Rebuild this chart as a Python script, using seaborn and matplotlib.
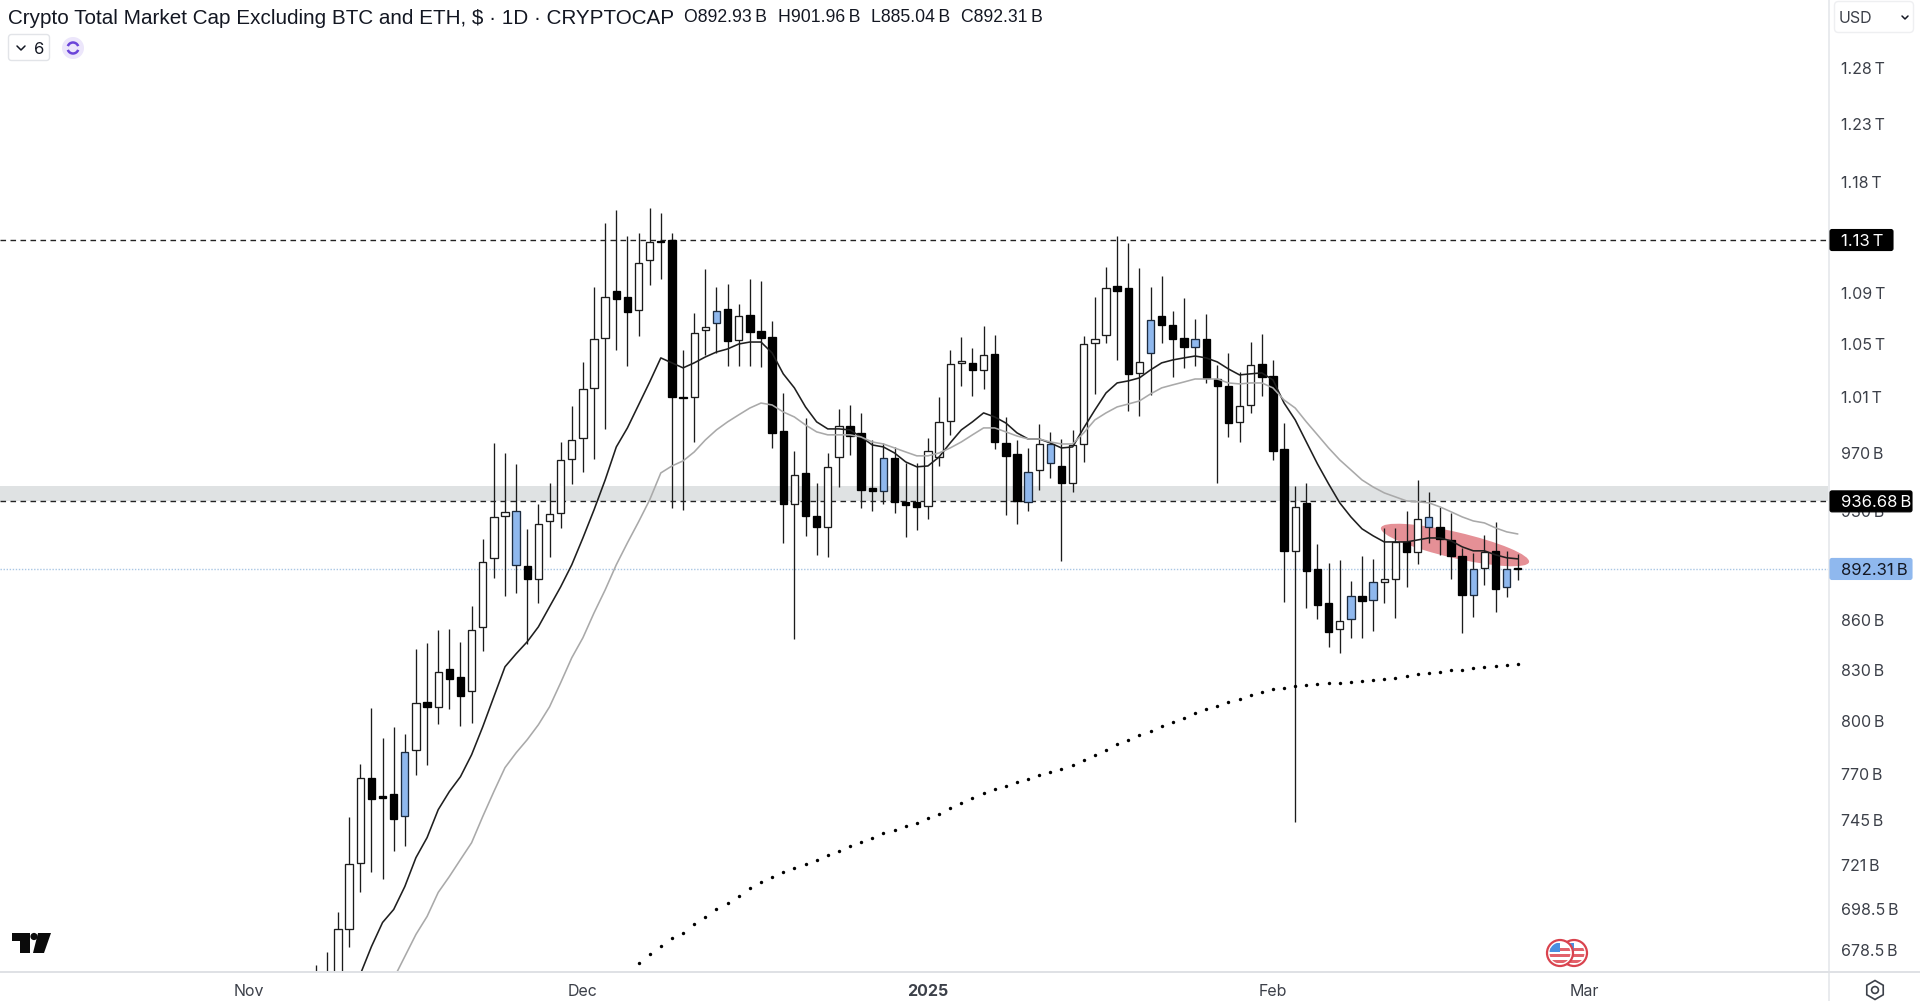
import numpy as np
import pandas as pd
import matplotlib
matplotlib.use("Agg")
import matplotlib.pyplot as plt
import matplotlib.dates as mdates
from matplotlib.patches import Arc, Ellipse, Circle, Rectangle, FancyBboxPatch, Polygon, RegularPolygon
from matplotlib.transforms import IdentityTransform
from matplotlib.ticker import FixedLocator, FixedFormatter, NullLocator
import seaborn as sns

# ========= data, all in billions =========
first_day = "2024-11-07"

highs = [671.3, 678.0, 697.3, 746.9, 775.9, 807.7, 790.5, 796.7, 792.8, 842.6,
         846.3, 854.2, 854.8, 846.9, 869.0, 911.8, 976.8, 969.8, 962.2, 918.4,
         935.0, 949.2, 977.5, 1003.1, 1035.3, 1092.5, 1143.8, 1154.6, 1133.2, 1135.7,
         1156.3, 1152.1, 1135.7, 1044.2, 1072.3, 1106.7, 1092.5, 1094.9, 1079.3, 1098.8,
         1097.2, 1066.2, 1012.5, 971.2, 994.5, 949.2, 969.8, 1000.9, 1003.8, 998.1,
         978.9, 976.8, 974.0, 962.9, 962.9, 980.3, 1009.6, 1044.2, 1054.0, 1045.7,
         1062.3, 1055.4, 995.2, 978.9, 973.3, 990.3, 984.6, 979.6, 986.0, 1054.7,
         1084.7, 1108.3, 1133.2, 1127.6, 1107.5, 1092.5, 1101.2, 1073.8, 1084.0, 1067.7,
         1071.5, 1033.1, 1042.0, 1027.9, 1050.2, 1056.2, 1036.8, 990.9, 947.1, 949.2,
         908.5, 896.2, 898.2, 884.8, 900.8, 898.8, 919.0, 919.0, 930.3, 951.2,
         943.1, 933.0, 929.0, 905.9, 902.7, 914.4, 923.0, 904.0, 901.96]
body_tops = [662.2, 667.0, 689.3, 722.2, 768.1, 768.1, 758.3, 759.4, 782.6, 810.6,
             811.2, 828.8, 830.6, 825.9, 854.2, 896.9, 926.3, 929.7, 930.3, 894.3,
             921.7, 928.3, 965.0, 978.9, 1015.4, 1052.5, 1084.7, 1089.4, 1084.7, 1111.5,
             1128.4, 1129.2, 1130.0, 1009.6, 1057.0, 1061.6, 1073.8, 1075.4, 1070.0, 1070.7,
             1058.5, 1054.0, 985.3, 954.7, 956.0, 927.0, 960.2, 988.8, 988.8, 983.9,
             945.8, 966.4, 966.4, 936.4, 936.4, 971.2, 991.7, 1033.8, 1036.0, 1034.6,
             1040.5, 1041.2, 976.8, 969.1, 956.7, 976.1, 976.1, 960.8, 975.4, 1048.7,
             1052.5, 1091.8, 1093.3, 1091.8, 1035.3, 1066.9, 1070.0, 1063.1, 1053.2, 1052.5,
             1052.5, 1022.7, 1017.6, 1003.1, 1033.1, 1033.8, 1024.9, 972.6, 933.0, 935.7,
             892.4, 870.9, 859.7, 875.3, 875.3, 884.1, 886.0, 909.8, 909.8, 925.0,
             926.3, 919.7, 911.1, 900.8, 892.4, 903.3, 904.0, 892.4, 892.93]
body_bots = [650.4, 657.4, 662.2, 689.3, 722.7, 756.6, 757.2, 745.8, 747.5, 783.7,
             808.2, 808.2, 824.7, 814.6, 817.6, 856.0, 899.5, 927.0, 895.0, 886.0,
             886.0, 923.6, 929.0, 965.7, 980.3, 1016.2, 1053.2, 1083.2, 1073.1, 1074.6,
             1113.9, 1128.4, 1009.6, 1008.9, 1009.6, 1059.3, 1064.6, 1051.0, 1051.7, 1057.8,
             1053.2, 983.9, 935.0, 935.0, 927.0, 919.7, 919.7, 967.0, 981.7, 944.4,
             943.7, 943.7, 936.4, 934.4, 933.0, 933.7, 967.0, 992.4, 1034.6, 1029.4,
             1029.4, 977.5, 967.8, 937.0, 936.4, 958.1, 962.9, 949.2, 949.2, 976.1,
             1049.4, 1055.4, 1089.4, 1026.5, 1027.2, 1042.0, 1063.1, 1052.5, 1046.5, 1046.5,
             1023.5, 1017.6, 991.0, 991.7, 1003.8, 1024.2, 971.2, 904.0, 904.0, 891.1,
             869.7, 853.0, 854.8, 860.9, 872.2, 872.8, 884.1, 886.0, 903.3, 903.3,
             919.7, 911.8, 900.8, 875.9, 875.9, 893.0, 879.6, 880.9, 892.31]
lows = [641.2, 648.0, 652.7, 680.0, 707.4, 717.6, 714.5, 729.0, 731.4, 769.8,
        775.3, 798.5, 807.1, 797.3, 799.0, 841.4, 886.7, 875.3, 877.1, 845.7,
        870.9, 900.1, 919.0, 948.5, 956.7, 965.7, 986.7, 1044.2, 1032.4, 1054.7,
        1094.1, 1098.8, 932.3, 931.0, 977.5, 1040.5, 1042.0, 1032.4, 1032.4, 1032.4,
        1031.7, 973.3, 909.2, 848.7, 913.8, 901.4, 900.1, 946.4, 968.4, 932.3,
        930.3, 935.0, 929.0, 913.1, 917.7, 925.0, 960.8, 982.5, 1017.6, 1010.3,
        1015.4, 972.6, 927.7, 921.7, 930.3, 944.4, 952.6, 897.6, 943.1, 963.6,
        1011.8, 1049.4, 1036.8, 999.5, 996.0, 1011.0, 1049.4, 1024.2, 1030.9, 1032.4,
        1019.8, 949.2, 981.0, 977.5, 998.1, 1010.3, 965.0, 871.5, 744.2, 867.8,
        860.9, 843.8, 840.2, 849.3, 849.3, 853.6, 870.9, 861.5, 880.9, 895.6,
        909.2, 901.4, 886.0, 852.4, 862.2, 882.2, 865.3, 874.6, 885.04]
kinds = list("wwwwwkkkbwkwkkwwwwbkwwwwwwwkkwwkkkwwbkwkkkkwkkwwkkkbkkkwwwwkwkkkbwbkwwwwkkwbkkkbkkkwwkkkwkkkwbkbwwkwbkkkbwkbk")

fast_ma = [667.0, 680.4, 692.3, 698.8, 710.4, 725.3, 735.8, 750.7, 760.5, 768.7,
           780.9, 796.7, 814.1, 831.8, 839.6, 846.9, 856.0, 868.4, 880.9, 895.0,
           912.4, 931.0, 951.2, 974.0, 987.4, 1003.8, 1020.5, 1038.3, 1034.6, 1030.9,
           1034.6, 1039.0, 1042.7, 1045.0, 1048.7, 1050.2, 1050.2, 1042.0, 1026.5, 1016.2,
           1002.4, 991.7, 986.7, 986.7, 986.0, 981.0, 975.4, 974.0, 969.8, 963.6,
           960.2, 960.8, 967.0, 976.8, 986.0, 991.7, 998.1, 995.2, 990.9, 983.9,
           979.6, 979.6, 976.8, 973.3, 974.0, 987.4, 1000.2, 1012.5, 1019.8, 1021.3,
           1023.5, 1029.4, 1034.6, 1036.8, 1038.3, 1039.7, 1038.3, 1035.3, 1030.1, 1025.7,
           1026.5, 1027.2, 1022.0, 1005.2, 993.1, 977.5, 962.2, 948.5, 935.7, 926.3,
           918.4, 913.8, 909.8, 909.8, 909.8, 911.1, 912.4, 912.4, 910.5, 906.6,
           904.0, 904.0, 901.4, 899.5, 898.8]
slow_ma = [665.0, 675.6, 686.4, 695.3, 707.4, 715.5, 724.3, 733.1, 747.0, 760.5,
           773.7, 782.0, 789.4, 797.9, 808.2, 822.3, 837.2, 849.3, 864.6, 879.0,
           895.0, 909.2, 923.0, 937.7, 956.0, 960.8, 964.3, 970.5, 978.9, 986.0,
           991.7, 996.7, 1001.6, 1005.2, 1003.8, 998.8, 995.2, 989.5, 984.6, 982.5,
           982.5, 982.5, 981.0, 977.5, 976.1, 973.3, 970.5, 967.8, 967.8, 969.8,
           973.3, 977.5, 982.5, 987.4, 987.4, 984.6, 981.7, 979.6, 979.6, 977.5,
           976.1, 976.1, 983.9, 993.1, 998.1, 1002.4, 1004.5, 1006.7, 1011.8, 1016.2,
           1018.4, 1020.5, 1022.7, 1022.7, 1022.7, 1019.8, 1019.1, 1019.8, 1019.8, 1016.2,
           1007.4, 1001.6, 991.7, 982.5, 973.3, 965.0, 958.1, 951.2, 946.4, 942.4,
           939.7, 937.0, 936.4, 935.7, 933.0, 929.7, 926.3, 923.6, 922.3, 919.0,
           916.4, 915.0]
dot_ma = [672.3, 676.6, 680.9, 684.4, 687.3, 691.3, 694.8, 698.8, 702.3, 705.8,
          709.4, 712.9, 715.5, 717.6, 720.1, 722.2, 724.3, 726.9, 729.0, 731.6,
          733.7, 735.8, 738.4, 740.0, 742.1, 743.7, 746.4, 748.5, 751.8, 754.5,
          757.2, 760.0, 762.1, 763.8, 765.9, 767.6, 769.8, 771.5, 773.1, 775.3,
          778.1, 780.9, 783.7, 787.1, 789.4, 792.2, 794.4, 797.3, 799.6, 801.9,
          804.8, 807.1, 808.8, 811.2, 812.9, 815.2, 817.0, 818.8, 819.4, 820.6,
          821.2, 821.8, 822.3, 822.3, 822.9, 823.5, 824.1, 824.7, 825.3, 826.5,
          827.6, 828.2, 828.8, 830.0, 830.0, 831.2, 831.8, 832.4, 833.0, 833.6]

top_level = 1130.0
mid_level = 936.68
band_top = 947.1
last_close = 892.31

# axis labels are rounded, the ticks themselves are not quite round numbers
y_ticks = [1278.4, 1228, 1178, 1088, 1048.7, 1009.6, 970, 930, 860, 830, 800, 770, 745, 721.5, 699, 679]
y_labels = ["1.28\u2009T", "1.23\u2009T", "1.18\u2009T", "1.09\u2009T", "1.05\u2009T", "1.01\u2009T",
            "970\u2009B", "930\u2009B", "860\u2009B", "830\u2009B", "800\u2009B", "770\u2009B",
            "745\u2009B", "721\u2009B", "698.5\u2009B", "678.5\u2009B"]
x_ticks = ["2024-11-01", "2024-12-01", "2025-01-01", "2025-02-01", "2025-03-01"]
x_labels = ["Nov", "Dec", "2025", "Feb", "Mar"]

title = "Crypto Total Market Cap Excluding BTC and ETH, $ \u00b7 1D \u00b7 CRYPTOCAP"
ohlc = [("O", "892.93\u2009B"), ("H", "901.96\u2009B"), ("L", "885.04\u2009B"), ("C", "892.31\u2009B")]

# ========= setup =========
W, H = 1920, 1001
PANE_R, PANE_B = 1829, 971
ink = "#131722"
axis_txt = "#3c4049"

sns.set_theme(style="white")
plt.rcParams["font.family"] = ["Inter", "DejaVu Sans"]

fig = plt.figure(figsize=(W / 100, H / 100), dpi=100, facecolor="white")
ax = fig.add_axes([0, 1 - PANE_B / H, PANE_R / W, PANE_B / H])
ax.set_yscale("log")
for s in ax.spines.values():
    s.set_visible(False)

days = pd.date_range(first_day, periods=len(highs))
df = pd.DataFrame({"day": days, "high": highs, "top": body_tops, "bot": body_bots, "low": lows, "kind": kinds})

# ========= levels =========
ax.axhspan(mid_level, band_top, color="#dfe2e3", lw=0, zorder=1)
ax.axhline(top_level, color="#222222", lw=1.0, dashes=(4, 3.2), zorder=2)
ax.axhline(mid_level, color="#222222", lw=1.0, dashes=(4, 3.2), zorder=2)
ax.axhline(last_close, color="#a9c6e4", lw=1.0, dashes=(1, 1.2), zorder=2)

# red highlight, placed by eye
ax.add_patch(Ellipse((1455, H - 545), 152, 26, angle=-13, transform=IdentityTransform(),
                     facecolor="#e59096", edgecolor="none", zorder=2))

# ========= candles =========
ax.vlines(df["day"], df["low"], df["high"], color="#1c1c1c", lw=0.95, zorder=3)
fills = {"w": "#ffffff", "k": "#000000", "b": "#8fb8ee"}
edges = {"w": "#1c1c1c", "k": "#000000", "b": "#1c2b3f"}
for kind in "wkb":
    part = df[df["kind"] == kind]
    ax.bar(part["day"], part["top"] - part["bot"], bottom=part["bot"], width=0.66,
           color=fills[kind], edgecolor=edges[kind], linewidth=0.95, zorder=4)

# ========= moving averages =========
sns.lineplot(x=days[4:4 + len(fast_ma)], y=fast_ma, color="#1f1f1f", linewidth=1.15, ax=ax, zorder=5)
sns.lineplot(x=days[7:7 + len(slow_ma)], y=slow_ma, color="#a9a9a9", linewidth=1.15, ax=ax, zorder=5)
sns.scatterplot(x=days[29:29 + len(dot_ma)], y=dot_ma, color="#000000", s=6, linewidth=0, ax=ax, zorder=5)

# ========= axes =========
nov1 = mdates.date2num(pd.Timestamp("2024-11-01"))
ax.set_xlim(nov1 - 249 / 11.13, nov1 + (PANE_R - 249) / 11.13)
ax.set_ylim(668.6, 1342.5)
ax.set_xlabel("")
ax.set_ylabel("")
ax.grid(False)

ax.yaxis.tick_right()
ax.yaxis.set_major_locator(FixedLocator(y_ticks))
ax.yaxis.set_major_formatter(FixedFormatter(y_labels))
ax.yaxis.set_minor_locator(NullLocator())
ax.tick_params(axis="y", length=0, pad=8.5, labelsize=11.5, labelcolor=axis_txt)

ax.set_xticks(mdates.date2num(pd.to_datetime(x_ticks)))
ax.set_xticklabels(x_labels)
ax.tick_params(axis="x", length=0, pad=9, labelsize=11.5, labelcolor=axis_txt)
ax.get_xticklabels()[2].set_fontweight("bold")

# ========= chrome, in pixel coordinates =========
ov = fig.add_axes([0, 0, 1, 1], zorder=10)
ov.set_xlim(0, W)
ov.set_ylim(H, 0)
ov.axis("off")

ov.add_patch(Rectangle((PANE_R - 1, 0), 2, H, fc="#e9ebee", ec="none"))
ov.add_patch(Rectangle((0, PANE_B), W, 1.5, fc="#dfe1e5", ec="none"))


def price_tag(value, text, fc, fg, width):
    y = H - ax.transData.transform((0, value))[1]
    ov.add_patch(FancyBboxPatch((PANE_R + 1, y - 10.5), width - 3, 21, boxstyle="round,pad=0,rounding_size=2",
                                fc=fc, ec=fc, lw=0.8))
    ov.text(PANE_R + 12, y, text, color=fg, fontsize=12, va="center_baseline", ha="left")


price_tag(top_level, "1.13\u2009T", "#000000", "#ffffff", 66)
price_tag(mid_level, "936.68\u2009B", "#000000", "#ffffff", 85)
price_tag(last_close, "892.31\u2009B", "#8fb8ee", "#131722", 85)

# header
ov.text(8, 16, title, color=ink, fontsize=14.85, va="center_baseline", ha="left",
        family=["Liberation Sans", "DejaVu Sans"])
for (letter, val), xp in zip(ohlc, [684, 778, 871, 961]):
    ov.text(xp, 16, letter + val, color=ink, fontsize=12.7, va="center_baseline", ha="left",
            family=["Liberation Sans", "DejaVu Sans"])

ov.add_patch(FancyBboxPatch((8.5, 34.5), 41, 26, boxstyle="round,pad=0,rounding_size=3",
                            fc="white", ec="#e2e4e8", lw=1))
ov.plot([17, 21, 25], [46, 50, 46], color=ink, lw=1.1)
ov.text(34, 48, "6", color=ink, fontsize=12, va="center_baseline", ha="left")
ov.add_patch(Circle((73, 48), 11, fc="#ece6fb", ec="none"))
ov.add_patch(Arc((73, 48), 11, 11, theta1=20, theta2=160, ec="#6b45d9", lw=1.8))
ov.add_patch(Arc((73, 48), 11, 11, theta1=200, theta2=340, ec="#6b45d9", lw=1.8))

# currency box
ov.add_patch(FancyBboxPatch((1834.5, 1.5), 79, 31, boxstyle="round,pad=0,rounding_size=4",
                            fc="white", ec="#eeeff1", lw=1))
ov.text(1839, 17, "USD", color=axis_txt, fontsize=11.5, va="center_baseline", ha="left")
ov.plot([1902, 1905, 1908], [16, 19, 16], color=ink, lw=1.1)

# logo
ov.add_patch(Polygon([(12, 933), (30, 933), (30, 953), (20, 953), (20, 941), (12, 941)], fc="#0b0b0b", ec="none"))
ov.add_patch(Circle((34, 936.5), 3.6, fc="#0b0b0b", ec="none"))
ov.add_patch(Polygon([(38, 933), (51, 933), (44, 953), (33, 953)], fc="#0b0b0b", ec="none"))

# flag events
for cx in (1574, 1560):
    ov.add_patch(Circle((cx, 953), 13, fc="white", ec="#d9434e", lw=1.6))
    inner = Circle((cx, 953), 10.5, transform=ov.transData)
    for yy in (949, 955, 961):
        r = Rectangle((cx - 12, yy - 1.5), 24, 3, fc="#e2626b", ec="none")
        ov.add_patch(r)
        r.set_clip_path(inner)
    c = Rectangle((cx - 11, 943), 11, 9, fc="#4a8fe0", ec="none")
    ov.add_patch(c)
    c.set_clip_path(inner)

# settings hexagon
ov.add_patch(RegularPolygon((1875, 990), 6, radius=9.5, fc="none", ec="#3c4049", lw=1.2))
ov.add_patch(Circle((1875, 990), 3.4, fc="none", ec="#3c4049", lw=1.2))

fig.savefig("out.png", dpi=100)
